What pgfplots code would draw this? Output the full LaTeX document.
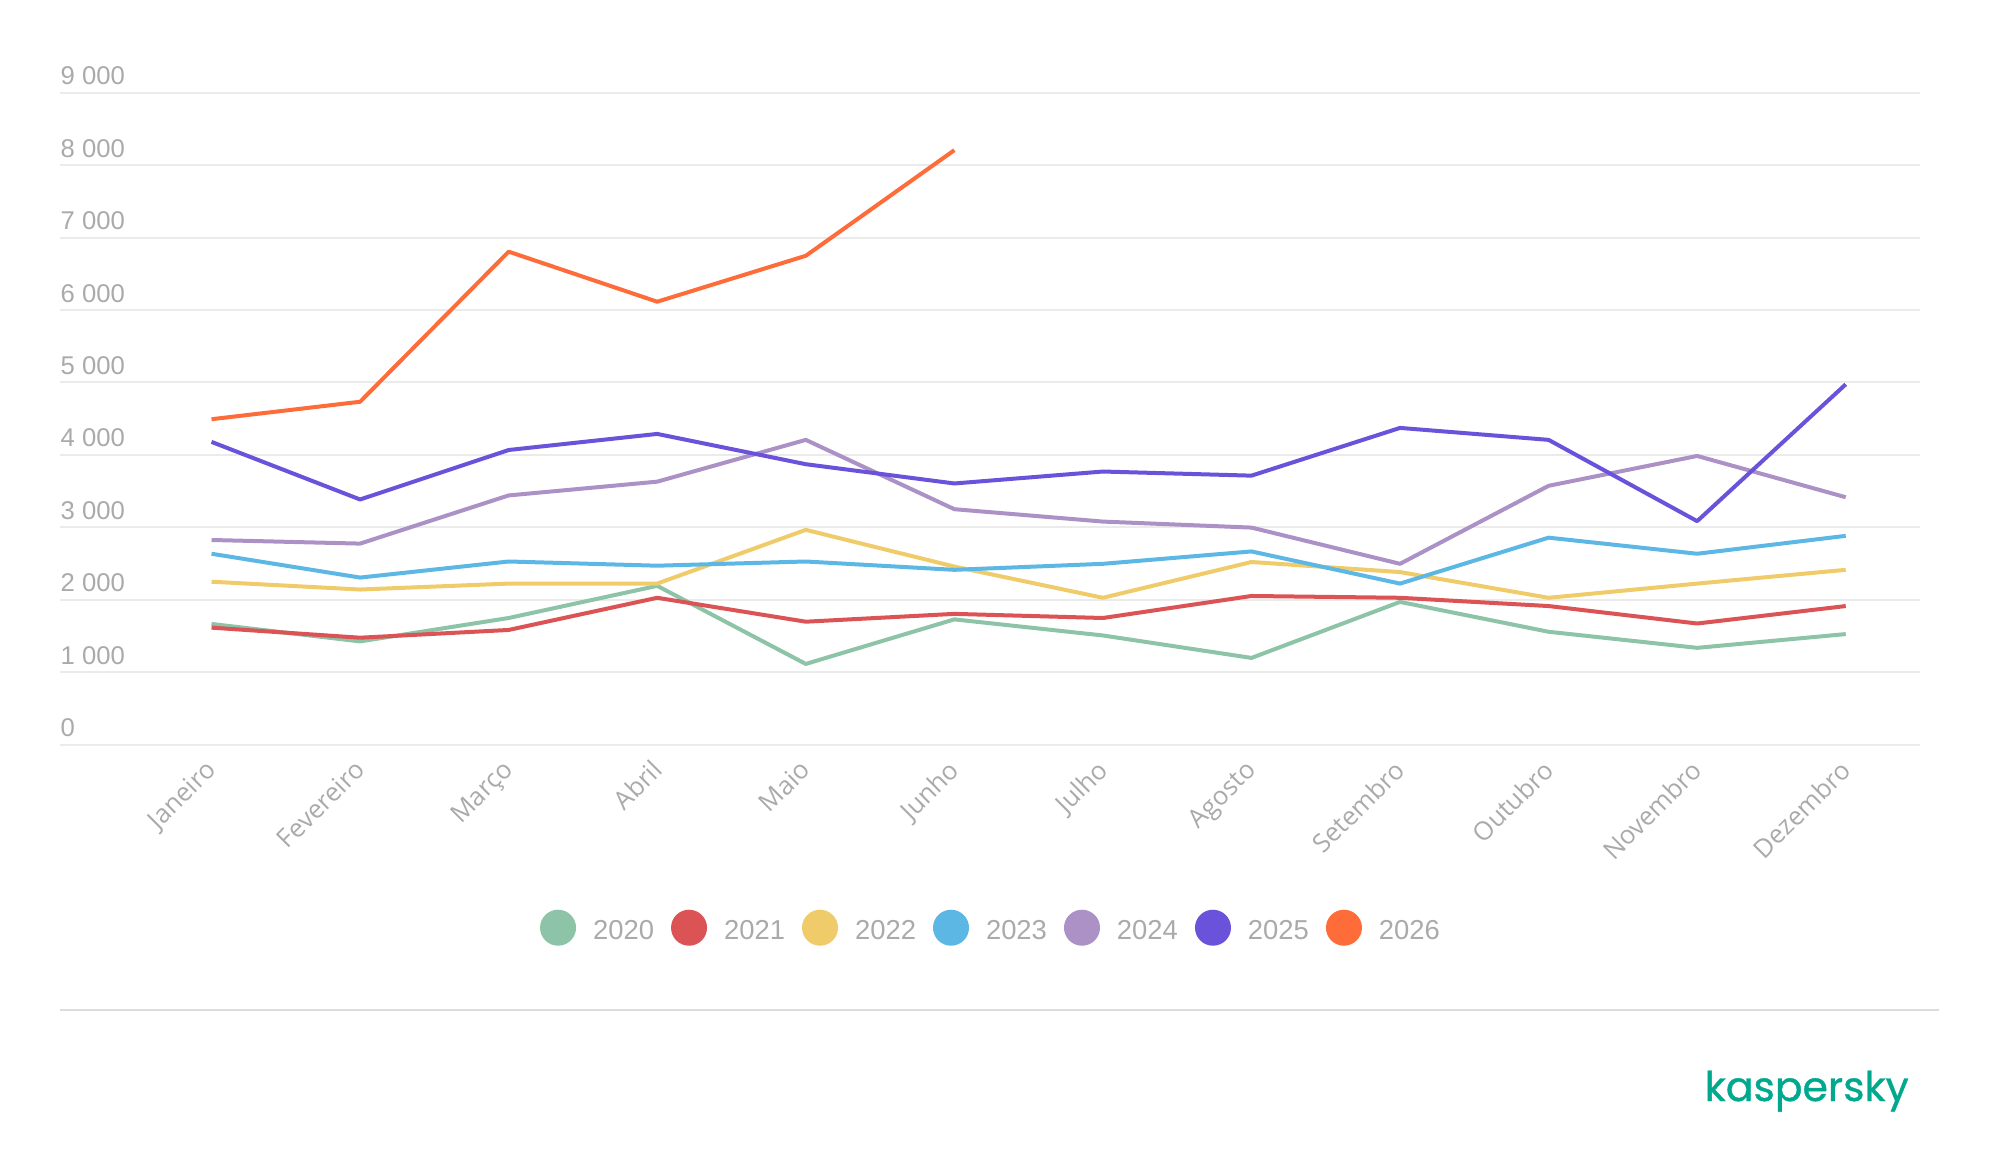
\documentclass[border=0pt]{standalone}
\usepackage{fontspec}
\setmainfont{Liberation Sans}
\newfontfamily\xfont{Open Sans}
\newfontfamily\logofont{Poppins}[FakeBold=0.8]
\usepackage{graphicx}
\usepackage{pgfplots}
\pgfplotsset{compat=1.18}
\definecolor{c2020}{HTML}{8DC3A7}
\definecolor{c2021}{HTML}{DB5354}
\definecolor{c2022}{HTML}{F0CB69}
\definecolor{c2023}{HTML}{5DB7E5}
\definecolor{c2024}{HTML}{AB91C5}
\definecolor{c2025}{HTML}{6B52DB}
\definecolor{c2026}{HTML}{FD6C39}
\definecolor{lbl}{HTML}{AAAAAA}
\definecolor{gridc}{HTML}{EBEBEB}
\definecolor{sepc}{HTML}{DCDCDC}
\definecolor{kgreen}{HTML}{00A88E}
\begin{document}
\begin{tikzpicture}
\path[use as bounding box] (0,0) rectangle (200mm,117.4mm);
\begin{axis}[
  at={(6mm,42.93mm)}, anchor=south west,
  scale only axis, width=186mm, height=65.2mm,
  xmin=-1.02, xmax=11.5, ymin=0, ymax=9000,
  axis line style={draw=none},
  tick style={draw=none},
  ymajorgrids, major grid style={draw=gridc, line width=0.2mm},
  xtick={0,...,11},
  xticklabels={Janeiro,Fevereiro,Março,Abril,Maio,Junho,Julho,Agosto,Setembro,Outubro,Novembro,Dezembro},
  ytick={0,1000,2000,3000,4000,5000,6000,7000,8000,9000},
  yticklabels={0,{1 000},{2 000},{3 000},{4 000},{5 000},{6 000},{7 000},{8 000},{9 000}},
  yticklabel style={anchor=south west, inner sep=0pt, yshift=0.7mm, text=lbl, font=\fontsize{7.3}{8}\selectfont},
  xticklabel style={rotate=45, anchor=north east, inner sep=0pt, xshift=-1.41mm, yshift=-0.38mm, text=lbl, font=\xfont\fontsize{7.3}{8}\selectfont},
  legend columns=-1,
  legend style={at={(0.5,-0.2807)}, anchor=center, draw=none, fill=none, text=lbl,
    font=\fontsize{7.8}{9}\selectfont, inner sep=0pt, nodes={inner sep=0pt},
    /tikz/every even column/.append style={column sep=1.7mm},
    /tikz/every odd column/.append style={column sep=1.7mm}},
  legend image code/.code={\fill[#1] (0mm,0.45mm) circle (1.6mm);},
  every axis plot/.append style={line width=0.4mm, line join=round, mark=none},
]
\addplot[c2020] coordinates {(0,1667)(1,1426)(2,1749)(3,2193)(4,1115)(5,1730)(6,1508)(7,1198)(8,1971)(9,1559)(10,1337)(11,1527)};
\addlegendentry{2020}
\addplot[c2021] coordinates {(0,1616)(1,1477)(2,1584)(3,2028)(4,1698)(5,1806)(6,1749)(7,2053)(8,2028)(9,1914)(10,1673)(11,1914)};
\addlegendentry{2021}
\addplot[c2022] coordinates {(0,2250)(1,2142)(2,2224)(3,2224)(4,2966)(5,2459)(6,2028)(7,2522)(8,2383)(9,2028)(10,2224)(11,2414)};
\addlegendentry{2022}
\addplot[c2023] coordinates {(0,2636)(1,2307)(2,2529)(3,2471)(4,2529)(5,2414)(6,2497)(7,2668)(8,2224)(9,2858)(10,2636)(11,2883)};
\addlegendentry{2023}
\addplot[c2024] coordinates {(0,2826)(1,2776)(2,3441)(3,3631)(4,4208)(5,3251)(6,3080)(7,2997)(8,2497)(9,3574)(10,3986)(11,3416)};
\addlegendentry{2024}
\addplot[c2025] coordinates {(0,4180)(1,3385)(2,4068)(3,4290)(4,3872)(5,3606)(6,3771)(7,3714)(8,4373)(9,4208)(10,3086)(11,4975)};
\addlegendentry{2025}
\addplot[c2026] coordinates {(0,4493)(1,4734)(2,6806)(3,6115)(4,6749)(5,8207)};
\addlegendentry{2026}
\end{axis}
\draw[sepc, line width=0.2mm] (6mm,16.4mm) -- (193.9mm,16.4mm);
\node[anchor=base west, inner sep=0pt, text=kgreen] at (170.4mm,7.3mm) {\resizebox{20.4mm}{!}{\logofont kaspersky}};
\end{tikzpicture}
\end{document}
